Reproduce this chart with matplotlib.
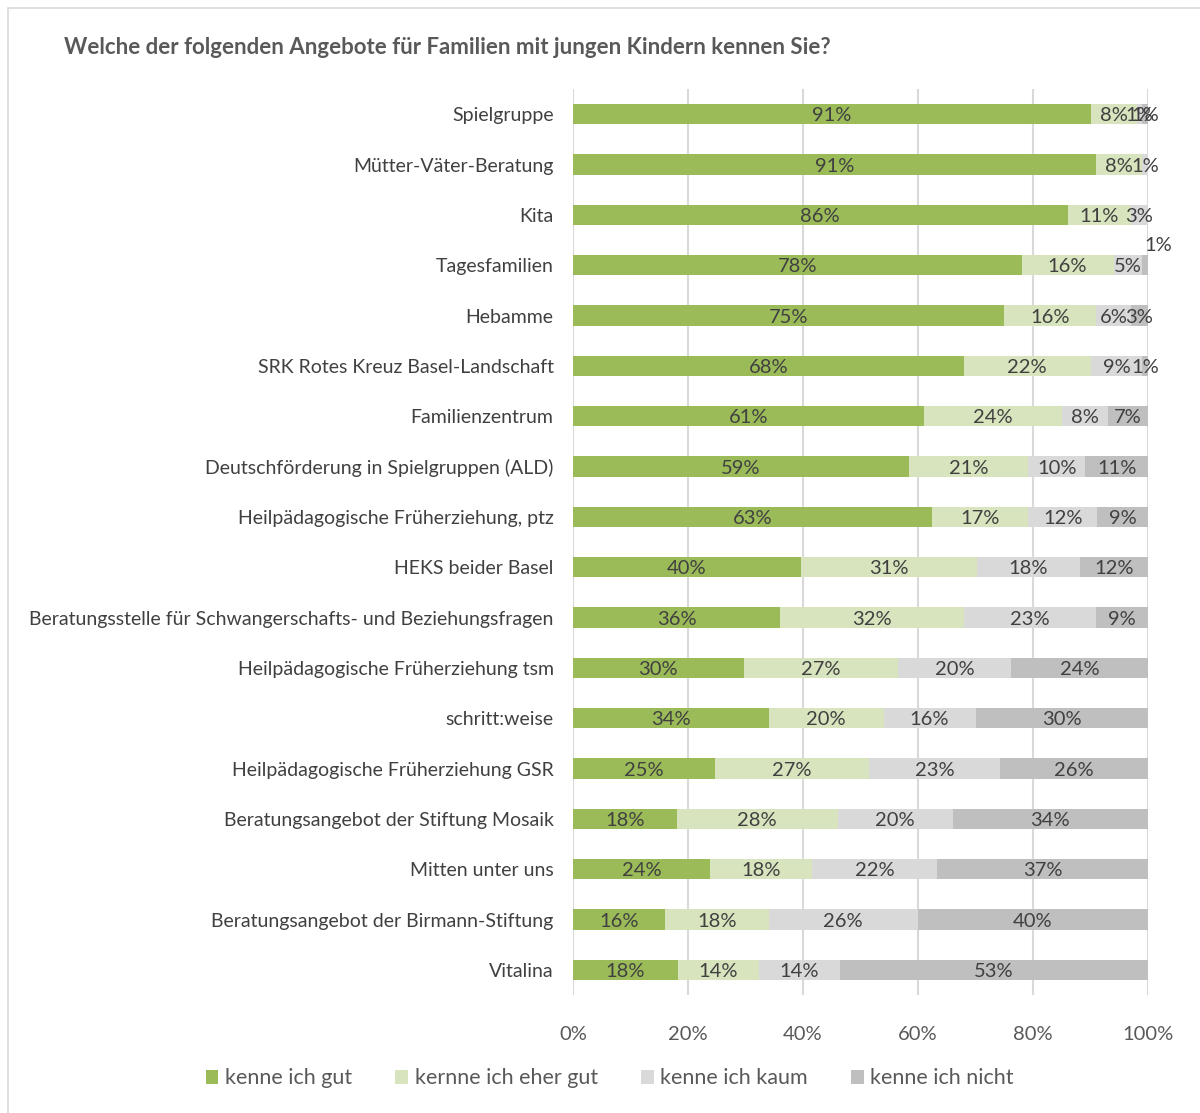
import numpy as np
import matplotlib
matplotlib.use("Agg")
import matplotlib.pyplot as plt
from matplotlib.patches import Rectangle

plt.rcParams["font.family"] = ["Lato", "DejaVu Sans"]

TITLE = "Welche der folgenden Angebote für Familien mit jungen Kindern kennen Sie?"

categories = [
    "Spielgruppe",
    "Mütter-Väter-Beratung",
    "Kita",
    "Tagesfamilien",
    "Hebamme",
    "SRK Rotes Kreuz Basel-Landschaft",
    "Familienzentrum",
    "Deutschförderung in Spielgruppen (ALD)",
    "Heilpädagogische Früherziehung, ptz",
    "HEKS beider Basel",
    "Beratungsstelle für Schwangerschafts- und Beziehungsfragen",
    "Heilpädagogische Früherziehung tsm",
    "schritt:weise",
    "Heilpädagogische Früherziehung GSR",
    "Beratungsangebot der Stiftung Mosaik",
    "Mitten unter uns",
    "Beratungsangebot der Birmann-Stiftung",
    "Vitalina",
]

gut       = [91, 91, 86, 78, 75, 68, 61, 59, 63, 40, 36, 30, 34, 25, 18, 24, 16, 18]
eher_gut  = [8, 8, 11, 16, 16, 22, 24, 21, 17, 31, 32, 27, 20, 27, 28, 18, 18, 14]
kaum      = [1, 1, 3, 5, 6, 9, 8, 10, 12, 18, 23, 20, 16, 23, 20, 22, 26, 14]
nicht     = [1, 0, 0, 1, 3, 1, 7, 11, 9, 12, 9, 24, 30, 26, 34, 37, 40, 53]

series = ["kenne ich gut", "kernne ich eher gut", "kenne ich kaum", "kenne ich nicht"]
colors = ["#9BBB59", "#D7E4BD", "#D9D9D9", "#BFBFBF"]

data = np.array([gut, eher_gut, kaum, nicht], dtype=float)
share = data / data.sum(axis=0) * 100   # 100% gestapelt wie in Excel

fig = plt.figure(figsize=(12, 11.13), dpi=100)
ax = fig.add_axes([0.4775, 0.106, 0.4792, 0.814])

y = np.arange(len(categories))
left = np.zeros(len(categories))
txt = "#404040"
for k in range(4):
    ax.barh(y, share[k], left=left, height=0.4, color=colors[k],
            label=series[k], zorder=2)
    for i in range(len(categories)):
        v = data[k, i]
        if v <= 0:
            continue
        cx = left[i] + share[k, i] / 2
        if i == 3 and k == 3:
            # Label in Excel manuell verschoben
            ax.text(cx + 2.3, i - 0.4, f"{int(v)}%", ha="center", va="center",
                    fontsize=14.5, color=txt, zorder=3)
        else:
            ax.text(cx, i + 0.03, f"{int(v)}%", ha="center", va="center",
                    fontsize=14.5, color=txt, zorder=3)
    left += share[k]

ax.set_ylim(len(categories) - 0.5, -0.5)
ax.set_xlim(0, 100)
ax.set_yticks(y)
ax.set_yticklabels(categories, fontsize=14, color=txt)
ax.set_xticks(np.arange(0, 101, 20))
ax.set_xticklabels([f"{t}%" for t in range(0, 101, 20)], fontsize=14.5, color="#595959")
ax.tick_params(axis="both", length=0)
ax.tick_params(axis="y", pad=14)
ax.tick_params(axis="x", pad=22)
ax.grid(axis="x", color="#D9D9D9", linewidth=1.5, zorder=0)
for s in ax.spines.values():
    s.set_visible(False)

fig.text(0.053, 0.957, TITLE, fontsize=16, fontweight="bold", color="#595959",
         ha="left", va="center")

leg = fig.legend(loc="center", bbox_to_anchor=(0.508, 0.031), ncol=4, frameon=False,
                 fontsize=15.5, handlelength=0.6, handleheight=0.6, handletextpad=0.3,
                 columnspacing=2.0, labelcolor="#595959")

fig.patches.append(Rectangle((0.007, -0.01), 1.0, 1.0 - 0.007 + 0.01,
                             transform=fig.transFigure, fill=False,
                             edgecolor="#D9D9D9", linewidth=1.2))

fig.savefig("out.png")
